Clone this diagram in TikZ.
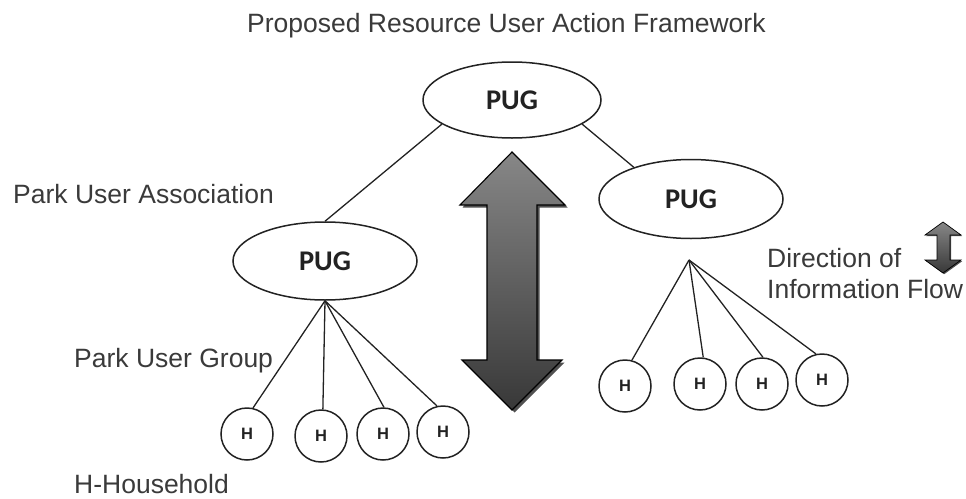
\documentclass[tikz,border=0pt]{standalone}
\usepackage{fontspec}
\setmainfont{Liberation Sans}
\newfontfamily\pugfont{Carlito}
\usetikzlibrary{shapes.geometric}
\definecolor{txt}{HTML}{3A3A3A}
\definecolor{ln}{HTML}{222222}
\definecolor{arrtop}{HTML}{878787}
\definecolor{arrbot}{HTML}{383838}
\definecolor{arrshadow}{HTML}{505050}
\tikzset{
  lbl/.style={anchor=base west, inner sep=0pt, text=txt, font=\fontsize{26.5}{32}\selectfont},
  pug/.style={ellipse, draw=ln, line width=1.5pt, fill=white, inner sep=0pt, text=ln,
    font=\pugfont\bfseries\fontsize{28.5}{30}\selectfont},
  hh/.style={circle, draw=ln, line width=1.5pt, minimum size=52pt, inner sep=0pt, text=ln,
    font=\bfseries\fontsize{16.5}{18}\selectfont},
  link/.style={draw=ln, line width=1.3pt},
  bigarrow/.style={draw=black, line width=1.1pt, top color=arrtop, bottom color=arrbot, line join=miter},
  arrowshadow/.style={fill=arrshadow, draw=none}
}
\begin{document}
\begin{tikzpicture}[x=1pt,y=-1pt]
\useasboundingbox (0,0) rectangle (966,498);

% title and labels
\node[lbl] (title) at (247,32) {Proposed Resource User Action Framework};
\node[lbl] (pua) at (13,203) {Park User Association};
\node[lbl] (pug) at (74,367) {Park User Group};
\node[lbl] (hh) at (74,493) {H-Household};
\node[lbl] (dir1) at (767,267) {Direction of};
\node[lbl] (dir2) at (767,298) {Information Flow};

% PUG ellipses
\node[pug, minimum width=178pt, minimum height=76pt] (top) at (512,100) {PUG};
\node[pug, minimum width=184pt, minimum height=79pt] (rpug) at (691,199) {PUG};
\node[pug, minimum width=184pt, minimum height=78pt] (lpug) at (325,261) {PUG};

% households
\node[hh] (h1) at (247,434) {H};
\node[hh] (h2) at (321,436) {H};
\node[hh] (h3) at (383,434) {H};
\node[hh] (h4) at (443,432) {H};
\node[hh] (r1) at (625,386) {H};
\node[hh] (r2) at (700,384) {H};
\node[hh] (r3) at (762,384) {H};
\node[hh] (r4) at (822,380) {H};

\coordinate (rapex) at (689,260);

% connectors
\draw[link] (top.199) -- (lpug.north);
\draw[link] (top.-19) -- (rpug.151);
\draw[link] (lpug.south) -- (h1.77);
\draw[link] (lpug.south) -- (h2.86);
\draw[link] (lpug.south) -- (h3.88);
\draw[link] (lpug.south) -- (h4.103);
\draw[link] (rapex) -- (r1.75);
\draw[link] (rapex) -- (r2.83);
\draw[link] (rapex) -- (r3.88);
\draw[link] (rapex) -- (r4.103);

% big double arrow
\path[arrowshadow, shift={(2.5,2.5)}] (512,152) -- (565,205) -- (537,205) -- (537,360) -- (562,360)
  -- (512,410) -- (462,360) -- (487,360) -- (487,205) -- (460,205) -- cycle;
\path[bigarrow] (512,152) -- (565,205) -- (537,205) -- (537,360) -- (562,360)
  -- (512,410) -- (462,360) -- (487,360) -- (487,205) -- (460,205) -- cycle;

% small legend arrow
\path[arrowshadow, shift={(1.2,1.2)}] (943,222) -- (961,235) -- (950,235) -- (950,260) -- (961,260)
  -- (943,273) -- (925,260) -- (937,260) -- (937,235) -- (925,235) -- cycle;
\path[bigarrow, line width=0.7pt] (943,222) -- (961,235) -- (950,235) -- (950,260) -- (961,260)
  -- (943,273) -- (925,260) -- (937,260) -- (937,235) -- (925,235) -- cycle;
\end{tikzpicture}
\end{document}
